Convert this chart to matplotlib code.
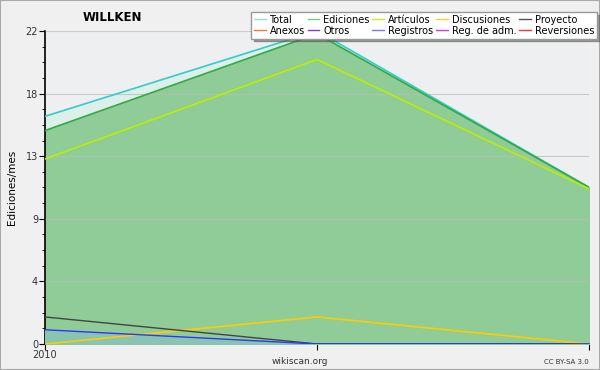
import matplotlib
matplotlib.use("Agg")
import matplotlib.pyplot as plt
from matplotlib.patches import Rectangle

# Datos
fechas = ["2010", "", ""]
total = [16.0, 22.0, 11.0]
ediciones = [15.0, 21.8, 11.0]
articulos = [13.0, 20.0, 10.9]
discusiones = [0.0, 1.9, 0.0]
proyecto = [1.9, 0.0, 0.0]
registros = [1.0, 0.0, 0.0]

etiquetas = ["Total", "Ediciones", "Artículos", "Discusiones", "Proyecto",
             "Anexos", "Otros", "Registros", "Reg. de adm.", "Reversiones"]
colores = ["#99dddd", "#77cc77", "#ccee22", "#ffcc33", "#555555",
           "#ff7733", "#8833ee", "#7777ff", "#dd33ff", "#ff3333"]

x = list(range(len(fechas)))

fig = plt.figure(figsize=(6, 3.7), dpi=100, facecolor="#f0f0f0")
fig.patches.append(Rectangle((0, 0), 1, 1, transform=fig.transFigure,
                             fill=False, edgecolor="#aaaaaa", lw=1.5))
ax = fig.add_axes([0.075, 0.0703, 0.907, 0.846])
ax.set_facecolor("#eeeff1")

# Áreas rellenas
ax.fill_between(x, 0, total, color="#dcefe9", zorder=1)
ax.fill_between(x, 0, ediciones, color="#90cc98", zorder=2)
ax.fill_between(x, 0, registros, color="#88c4b0", zorder=3)

# Líneas
ax.plot(x, total, color="#33cccc", lw=1.2, zorder=4)
ax.plot(x, ediciones, color="#33aa44", lw=1.2, zorder=4)
ax.plot(x, articulos, color="#bbee00", lw=1.2, zorder=4)
ax.plot(x, discusiones, color="#ffcc00", lw=1.2, zorder=4)
ax.plot(x, proyecto, color="#444444", lw=1.0, zorder=4)
ax.plot(x, registros, color="#3333ff", lw=1.0, zorder=4)

ax.set_xlim(0, 2)
ax.set_ylim(0, 22)
yt = [0, 4.4, 8.8, 13.2, 17.6, 22]
ax.set_yticks(yt)
ax.set_yticklabels(["0", "4", "9", "13", "18", "22"], fontsize=7, color="#333333")
ax.set_yticks([i * 1.1 for i in range(21)], minor=True)
ax.set_xticks(x)
ax.set_xticklabels(fechas, fontsize=7, color="#333333")
ax.tick_params(axis="y", length=4, pad=1)
ax.tick_params(axis="y", which="minor", length=2)
ax.tick_params(axis="x", length=4, pad=0)
ax.grid(axis="y", color="#bbbbbb", lw=0.8, alpha=0.7, zorder=0)
ax.set_axisbelow(False)
for s in ["top", "right"]:
    ax.spines[s].set_visible(False)
ax.spines["left"].set_linewidth(1.2)
ax.spines["bottom"].set_linewidth(1.2)

ax.set_ylabel("Ediciones/mes", fontsize=7.5, labelpad=6)
fig.text(0.187, 0.953, "WILLKEN", fontsize=8.5, fontweight="bold", ha="center", va="center")
fig.text(0.5, 0.022, "wikiscan.org", fontsize=6.5, ha="center", va="center", color="#333333")
fig.text(0.982, 0.022, "CC BY-SA 3.0", fontsize=5, ha="right", va="center", color="#333333")

# Leyenda
handles = [plt.Line2D([], [], color=c, lw=1) for c in colores]
orden = [0, 5, 1, 6, 2, 7, 3, 8, 4, 9]
leg = fig.legend([handles[i] for i in orden], [etiquetas[i] for i in orden],
                 ncol=5, loc="upper right", bbox_to_anchor=(0.995, 0.968),
                 fontsize=7, frameon=True, fancybox=False, shadow=True,
                 handlelength=1.2, handletextpad=0.4, columnspacing=0.3,
                 labelspacing=0.1, borderpad=0.3, borderaxespad=0)
leg.get_frame().set_edgecolor("#999999")
leg.get_frame().set_linewidth(1)

fig.savefig("out.png", dpi=100, facecolor=fig.get_facecolor())
